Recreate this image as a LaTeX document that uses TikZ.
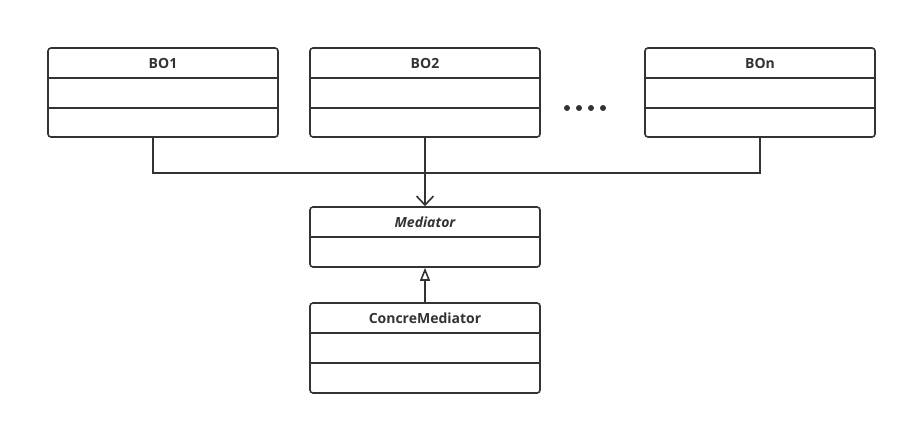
\documentclass[tikz,border=0pt]{standalone}
\usepackage{fontspec}
\setmainfont{Open Sans}
\usepackage{tikz}
\usetikzlibrary{arrows.meta}
\definecolor{umlgray}{HTML}{333333}

\tikzset{
  cls/.style={draw=umlgray, line width=1.6pt, rounded corners=3pt, fill=white,
              minimum width=230pt, inner sep=0pt},
  title/.style={text=umlgray, font=\fontsize{14}{16}\selectfont\bfseries},
  link/.style={draw=umlgray, line width=1.6pt},
}

\begin{document}
\begin{tikzpicture}[x=1pt, y=-1pt]
        \useasboundingbox (0,0) rectangle (907,425);
        \node [cls, minimum height=89pt] (bo1) at (163,92.5)   {};        %BO1
        \draw [link] (48,78) -- (278,78) (48,108) -- (278,108);            %
        \node [title] (bo1t) at (163,63) {BO1};                            %
        \node [cls, minimum height=89pt] (bo2) at (425,92.5)   {};        %BO2
        \draw [link] (310,78) -- (540,78) (310,108) -- (540,108);          %
        \node [title] (bo2t) at (425,63) {BO2};                            %
        \node [cls, minimum height=89pt] (bon) at (760,92.5)   {};        %BOn
        \draw [link] (645,78) -- (875,78) (645,108) -- (875,108);          %
        \node [title] (bont) at (760,63) {BOn};                            %
        \foreach \x in {567,579,591,603}                                   %dots
          \fill [umlgray] (\x,108) circle (3pt);

        \node [cls, minimum height=60pt] (med) at (425,237)    {};        %Mediator
        \draw [link] (310,237) -- (540,237);                               %
        \node [title, font=\fontsize{14}{16}\selectfont\bfseries\itshape] (medt) at (425,222) {Mediator};

        \node [cls, minimum height=90pt] (con) at (425,348)    {};        %ConcreMediator
        \draw [link] (310,333) -- (540,333) (310,363) -- (540,363);        %
        \node [title] (cont) at (425,318) {ConcreMediator};                %

        \coordinate (j1) at (153,173);                                     %
        \coordinate (jn) at (760,173);                                     %
        \draw [link] (bo1.south -| j1) -- (j1) -- (jn) -- (bon.south);     %
        \draw [link, -{Straight Barb[length=9pt, width=17pt, line width=1.6pt]}]
                     (bo2.south) -- (med.north);                           %
        \draw [link, -{Triangle[open, fill=white, length=13pt, width=10pt, line width=1.6pt]}]
                     (con.north) -- (med.south);                           %
\end{tikzpicture}
\end{document}
